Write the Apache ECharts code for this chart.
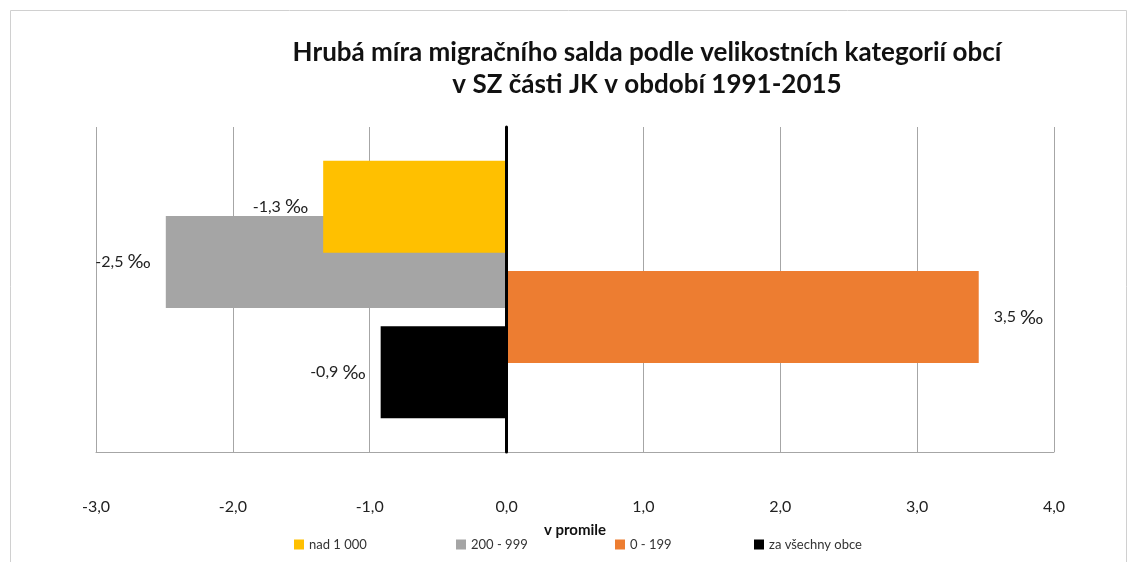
<!DOCTYPE html>
<html>
<head>
<meta charset="utf-8">
<script src="https://cdn.jsdelivr.net/npm/echarts@6/dist/echarts.min.js"></script>
<style>
  html, body { margin: 0; padding: 0; background: #fff; }
  #chart { width: 1136px; height: 562px; }
</style>
</head>
<body>
<div id="chart"></div>
<script>
const FONT = 'Lato'

const categories = ['obce']
const seriesNames = ['nad 1 000', '200 - 999', '0 - 199', 'za všechny obce']
const seriesColors = ['#FFC000', '#A5A5A5', '#ED7D31', '#000000']
const seriesValues = [-1.34, -2.49, 3.45, -0.92]
const xTicks = [-3, -2, -1, 0, 1, 2, 3, 4]
const legendLeft = [289, 451, 610, 749]

const myChart = echarts.init(document.getElementById('chart'))

function fmt(v) {
  return v.toFixed(1).replace('.', ',')
}

const series = seriesNames.map(function (name, i) {
  return {
    name: name,
    type: 'bar',
    data: [seriesValues[i]],
    barWidth: 92,
    barGap: '-40%',
    z: 10 - i,
    itemStyle: { color: seriesColors[i] },
    label: {
      show: true,
      position: seriesValues[i] < 0 ? 'left' : 'right',
      distance: 15,
      formatter: function (p) {
        return '{n|' + fmt(p.value) + ' }{p|‰}'
      },
      rich: {
        n: { fontFamily: FONT, fontSize: 16, color: '#222' },
        p: { fontFamily: FONT, fontSize: 20, color: '#222' }
      }
    }
  }
})

const legends = seriesNames.map(function (name, i) {
  return {
    data: [name],
    left: legendLeft[i],
    top: 533,
    itemWidth: 10,
    itemHeight: 10,
    itemGap: 3,
    icon: 'rect',
    textStyle: { fontFamily: FONT, fontSize: 13, color: '#333' }
  }
})

const option = {
  animation: false,
  backgroundColor: '#fff',
  title: {
    text: 'Hrubá míra migračního salda podle velikostních kategorií obcí\nv SZ části JK v období 1991-2015',
    left: 642,
    top: 32,
    textAlign: 'center',
    textStyle: {
      fontFamily: FONT,
      fontSize: 26,
      fontWeight: 'bold',
      color: '#111',
      lineHeight: 32
    }
  },
  legend: legends,
  grid: {
    left: 96,
    right: 82,
    top: 127,
    bottom: 110
  },
  xAxis: {
    type: 'value',
    min: xTicks[0],
    max: xTicks[xTicks.length - 1],
    interval: 1,
    name: 'v promile',
    nameLocation: 'middle',
    nameGap: 71,
    nameTextStyle: { fontFamily: FONT, fontSize: 15, fontWeight: 'bold', color: '#111' },
    axisLine: { show: true, lineStyle: { color: '#a6a6a6', width: 1 } },
    axisTick: { show: false },
    axisLabel: {
      margin: 47,
      fontFamily: FONT,
      fontSize: 16,
      color: '#222',
      formatter: fmt
    },
    splitLine: { show: true, lineStyle: { color: '#a6a6a6', width: 1 } }
  },
  yAxis: {
    type: 'category',
    data: categories,
    inverse: true,
    axisLine: { show: true, onZero: true, lineStyle: { color: '#000', width: 3 } },
    axisTick: { show: false },
    axisLabel: { show: false },
    splitLine: { show: false },
    z: 20
  },
  graphic: [{
    type: 'rect',
    shape: { x: 10.5, y: 10.5, width: 1116, height: 600 },
    style: { fill: 'none', stroke: '#d0d0d0', lineWidth: 1 },
    silent: true
  }],
  series: series
}

myChart.setOption(option)
</script>
</body>
</html>
